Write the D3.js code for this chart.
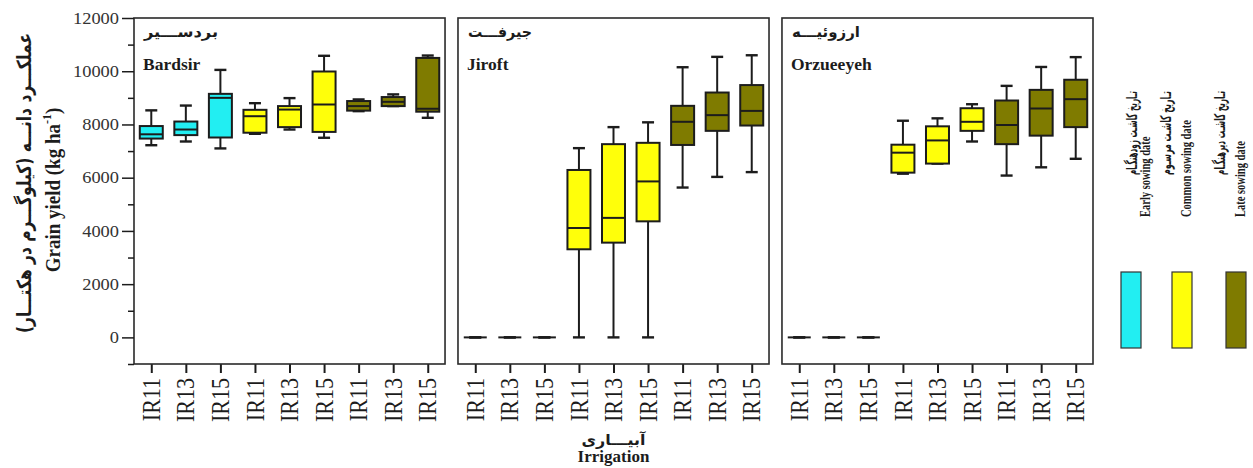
<!DOCTYPE html>
<html lang="en">
<head>
<meta charset="UTF-8">
<title>Grain yield by sowing date and irrigation</title>
<script src="https://cdn.jsdelivr.net/npm/d3@7"></script>
<style>
  body { margin: 0; background: #fff; }
  .serif { font-family: "Liberation Serif", "DejaVu Serif", serif; }
  .fa { font-family: "DejaVu Sans", sans-serif; font-weight: bold; }
</style>
</head>
<body>
<svg id="chart" width="1253" height="468"></svg>
<script>
// ---- data ----
const sites = ["Bardsir", "Jiroft", "Orzueeyeh"];
const sitesFa = ["بردســـیر", "جیرفـــت", "ارزوئیـــه"];
const irrigation = ["IR11", "IR13", "IR15"];
const sowingDates = ["Early sowing date", "Common sowing date", "Late sowing date"];
const sowingDatesFa = ["تـاریخ کاشـت زودهنگـام", "تـاریخ کاشـت مرسـوم", "تـاریخ کاشـت دیرهنگـام"];
const sowingColors = ["#22eef2", "#ffff0a", "#7f7b00"];
const yTicks = [0, 2000, 4000, 6000, 8000, 10000, 12000];

// each box: [min, q1, median, q3, max], order Early IR11..IR15, Common IR11..IR15, Late IR11..IR15
const bardsirBoxes = [
  [7220, 7470, 7630, 7940, 8530], [7360, 7600, 7810, 8110, 8710], [7100, 7510, 9000, 9150, 10050],
  [7650, 7690, 8310, 8550, 8800], [7810, 7900, 8560, 8690, 8990], [7500, 7720, 8750, 9990, 10580],
  [8500, 8520, 8690, 8880, 8940], [8690, 8690, 8850, 9030, 9130], [8250, 8480, 8590, 10500, 10590]
];
const jiroftBoxes = [
  [0, 0, 0, 0, 0], [0, 0, 0, 0, 0], [0, 0, 0, 0, 0],
  [0, 3310, 4110, 6290, 7110], [0, 3560, 4490, 7260, 7900], [0, 4360, 5860, 7310, 8080],
  [5630, 7230, 8100, 8700, 10150], [6030, 7760, 8350, 9200, 10540], [6210, 7960, 8510, 9480, 10600]
];
const orzueeyehBoxes = [
  [0, 0, 0, 0, 0], [0, 0, 0, 0, 0], [0, 0, 0, 0, 0],
  [6150, 6190, 6940, 7240, 8140], [6530, 6530, 7400, 7930, 8230], [7360, 7760, 8100, 8610, 8760],
  [6080, 7260, 7980, 8900, 9450], [6390, 7580, 8600, 9300, 10160], [6710, 7900, 8950, 9680, 10530]
];
const siteBoxes = [bardsirBoxes, jiroftBoxes, orzueeyehBoxes];

// ---- setup ----
const svg = d3.select("#chart");
const ink = "#1c1c1c";

const keys = sowingDates.flatMap((s, si) => irrigation.map(ir => si + "|" + ir));

const y = d3.scaleLinear().domain([-1000, 12000]).range([364, 18]);
const panelX = d3.scaleBand().domain(sites).range([134, 1093]).paddingInner(0.04);
const x = d3.scalePoint().domain(keys).range([0, panelX.bandwidth()]).padding(0.5);

const boxW = 23, capW = 12;

sites.forEach((site, pi) => {
  const g = svg.append("g").attr("transform", `translate(${panelX(site)},0)`);

  // x axis
  const xa = g.append("g")
    .attr("transform", `translate(0,${y(-1000)})`)
    .call(d3.axisBottom(x).tickSize(9).tickFormat(k => k.split("|")[1]))
    .attr("font-family", null).attr("font-size", null);
  xa.select(".domain").remove();
  xa.selectAll(".tick line").attr("stroke", ink).attr("stroke-width", 2);
  xa.selectAll(".tick text")
    .attr("class", "serif")
    .attr("transform", "rotate(-90) scale(1,1.12)")
    .attr("x", -14).attr("y", 0).attr("dy", "0.33em")
    .attr("text-anchor", "end")
    .attr("font-size", 22).attr("fill", ink);

  // boxes
  const boxes = siteBoxes[pi];
  const bx = g.selectAll("g.box").data(boxes).join("g")
    .attr("class", "box")
    .attr("transform", (d, i) => `translate(${x(keys[i])},0)`);

  bx.append("line").attr("x1", 0).attr("x2", 0)
    .attr("y1", d => y(d[0])).attr("y2", d => y(d[4]))
    .attr("stroke", ink).attr("stroke-width", 2);
  bx.append("line").attr("x1", -capW / 2).attr("x2", capW / 2)
    .attr("y1", d => y(d[0])).attr("y2", d => y(d[0]))
    .attr("stroke", ink).attr("stroke-width", 2.4);
  bx.append("line").attr("x1", -capW / 2).attr("x2", capW / 2)
    .attr("y1", d => y(d[4])).attr("y2", d => y(d[4]))
    .attr("stroke", ink).attr("stroke-width", 2.4);
  bx.append("rect")
    .attr("x", -boxW / 2).attr("width", boxW)
    .attr("y", d => y(d[3])).attr("height", d => y(d[1]) - y(d[3]))
    .attr("fill", (d, i) => sowingColors[Math.floor(i / 3)])
    .attr("stroke", ink).attr("stroke-width", d => d[4] === 0 ? 2.6 : 2);
  bx.append("line").attr("x1", -boxW / 2).attr("x2", boxW / 2)
    .attr("y1", d => y(d[2])).attr("y2", d => y(d[2]))
    .attr("stroke", ink).attr("stroke-width", 2);

  // frame
  g.append("rect")
    .attr("x", 0).attr("y", y(12000))
    .attr("width", panelX.bandwidth()).attr("height", y(-1000) - y(12000))
    .attr("fill", "none").attr("stroke", "#2a2a2a").attr("stroke-width", 1.6);

  // panel titles
  g.append("text").attr("class", "fa").attr("x", 10).attr("y", 37)
    .attr("textLength", pi === 0 ? 74 : pi === 1 ? 64 : 68).attr("lengthAdjust", "spacingAndGlyphs")
    .attr("font-size", 15).attr("fill", ink).text(sitesFa[pi]);
  g.append("text").attr("class", "serif").attr("x", 9).attr("y", 70)
    .attr("font-size", 17.5).attr("font-weight", "bold")
    .attr("fill", ink).text(site);
});

// y axis (first panel only)
const ya = svg.append("g")
  .attr("transform", `translate(${panelX(sites[0])},0)`)
  .call(d3.axisLeft(y).tickValues(yTicks).tickSize(12).tickPadding(3).tickFormat(d3.format("d")))
  .attr("font-family", null).attr("font-size", null);
ya.select(".domain").remove();
ya.selectAll(".tick line").attr("stroke", ink).attr("stroke-width", 1.5);
ya.selectAll(".tick text")
  .attr("class", "serif").attr("font-size", 16).attr("fill", "#333")
  .attr("textLength", d => String(d).length * 9.2).attr("lengthAdjust", "spacingAndGlyphs");

const yMinor = svg.append("g")
  .attr("transform", `translate(${panelX(sites[0])},0)`)
  .call(d3.axisLeft(y).tickValues(d3.range(-1000, 12000, 2000)).tickSize(6).tickFormat(""));
yMinor.select(".domain").remove();
yMinor.selectAll(".tick line").attr("stroke", ink).attr("stroke-width", 1.5);

// y title
const yt = svg.append("g").attr("transform", "translate(60,190) rotate(-90) scale(1,1.1)");
const ytEn = yt.append("text").attr("class", "serif").attr("text-anchor", "middle")
  .attr("font-size", 19).attr("font-weight", "bold").attr("fill", ink);
ytEn.append("tspan").text("Grain yield (kg ha");
ytEn.append("tspan").attr("dy", -8).attr("font-size", 12).text("-1");
ytEn.append("tspan").attr("dy", 8).text(")");

svg.append("g").attr("transform", "translate(31,183) rotate(-90) scale(1,1.15)")
  .append("text").attr("class", "fa").attr("text-anchor", "middle")
  .attr("textLength", 300).attr("lengthAdjust", "spacingAndGlyphs")
  .attr("font-size", 17).attr("fill", ink).text("عملکـــرد دانـــه (کیلوگـــرم در هکتـــار)");

// x title
const xc = panelX(sites[1]) + panelX.bandwidth() / 2;
svg.append("text").attr("class", "fa").attr("x", xc).attr("y", 445).attr("text-anchor", "middle")
  .attr("textLength", 64).attr("lengthAdjust", "spacingAndGlyphs")
  .attr("font-size", 15).attr("fill", ink).text("آبیـــاری");
svg.append("text").attr("class", "serif").attr("x", xc).attr("y", 462).attr("text-anchor", "middle")
  .attr("font-size", 17).attr("font-weight", "bold")
  .attr("fill", ink).text("Irrigation");

// legend
const legX = [1121, 1172, 1226];
const legFaX = [1137, 1171, 1225];
const legEnX = [1150, 1191, 1245];
sowingDates.forEach((s, i) => {
  svg.append("rect").attr("x", legX[i]).attr("y", 272).attr("width", 20).attr("height", 76)
    .attr("fill", sowingColors[i]).attr("stroke", "#333").attr("stroke-width", 1.2);
  svg.append("g").attr("transform", `translate(${legFaX[i]},133) rotate(-90) scale(1,1.25)`)
    .append("text").attr("class", "fa").attr("text-anchor", "middle")
    .attr("textLength", 84).attr("lengthAdjust", "spacingAndGlyphs")
    .attr("font-size", 12).attr("fill", ink).text(sowingDatesFa[i]);
  svg.append("g").attr("transform", `translate(${legEnX[i]},217) rotate(-90) scale(1,1.35)`)
    .append("text").attr("class", "serif").attr("text-anchor", "start")
    .attr("font-size", 10.5).attr("font-weight", "bold")
    .attr("fill", ink).text(s);
});
</script>
</body>
</html>
